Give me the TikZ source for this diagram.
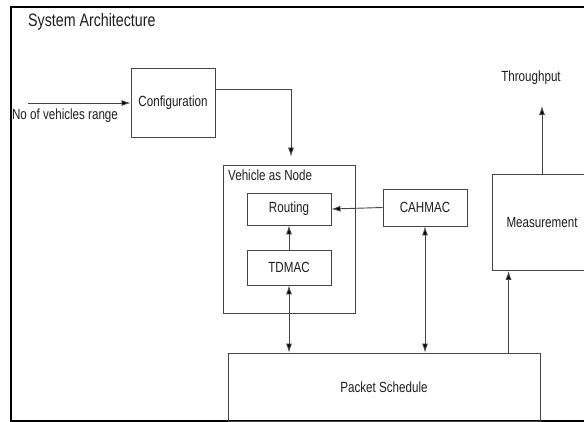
\documentclass[tikz,border=0pt]{standalone}
\usepackage{fontspec}
\usepackage{tikz}
\usetikzlibrary{arrows.meta,positioning}
\newfontfamily\archfont{Liberation Sans}[FakeStretch=0.79]
\definecolor{boxline}{HTML}{454545}
\definecolor{boxtext}{HTML}{1E1E1E}
\tikzset{
	blk/.style={draw=boxline, line width=0.9pt, inner sep=0pt, text=boxtext, font=\archfont\fontsize{14.7}{16}\selectfont},
	lbl/.style={inner sep=0pt, text=boxtext, font=\archfont\fontsize{14.7}{16}\selectfont},
	arr/.style={draw=boxline, line width=0.9pt, -{Latex[length=9pt,width=6pt,fill=black]}},
	darr/.style={draw=boxline, line width=0.9pt, {Latex[length=9pt,width=6pt,fill=black]}-{Latex[length=9pt,width=6pt,fill=black]}}
}
\begin{document}
\begin{tikzpicture}[x=1pt,y=-1pt]
		\clip (0,0) rectangle (584,422);
		\fill[white] (0,0) rectangle (584,422);
		\draw[line width=2.5pt] (590,7) -- (11,7) -- (11,421) -- (590,421);

		\node[lbl, anchor=west, font=\archfont\fontsize{18}{20}\selectfont] (title) at (28,22) {System Architecture};
		\node[blk, minimum width=84pt, minimum height=69pt] (conf) at (173,102.5) {Configuration};
		\node[lbl] (range) at (65,116) {No of vehicles range};
		\coordinate (rangein) at (28,103);
		\node[blk, minimum width=132pt, minimum height=148pt] (vehicle) at (289,239) {};
		\node[lbl, anchor=west] (vehlbl) at (228,175) {Vehicle as Node};
		\node[blk, minimum width=84pt, minimum height=32pt] (routing) at (289,209) {Routing};
		\node[blk, minimum width=84pt, minimum height=35pt] (tdmac) at (289,267.5) {TDMAC};
		\node[blk, minimum width=84pt, minimum height=37pt] (cahmac) at (425,207.5) {CAHMAC};
		\node[blk, minimum width=100pt, minimum height=96pt] (meas) at (542,222.5) {Measurement};
		\node[blk, minimum width=312pt, minimum height=68pt] (packet) at (384,387) {Packet Schedule};
		\node[lbl] (tput) at (531,78) {Throughput};
		\coordinate (tputend) at (542,106);

		\draw[arr] (rangein) -- (conf.west |- rangein);
		\draw[arr] ([yshift=13.5pt]conf.east) -| ([xshift=2pt,yshift=8pt]vehicle.north);
		\draw[arr] (cahmac.west) -- (routing.east);
		\draw[arr] (tdmac.north) -- (routing.south);
		\draw[darr] (tdmac.south) -- (tdmac.south |- packet.north);
		\draw[darr] (cahmac.south) -- (cahmac.south |- packet.north);
		\draw[arr] ([xshift=17pt]meas.south west |- packet.north) -- ([xshift=17pt]meas.south west);
		\draw[arr] (meas.north) -- (tputend);
	\end{tikzpicture}
\end{document}
